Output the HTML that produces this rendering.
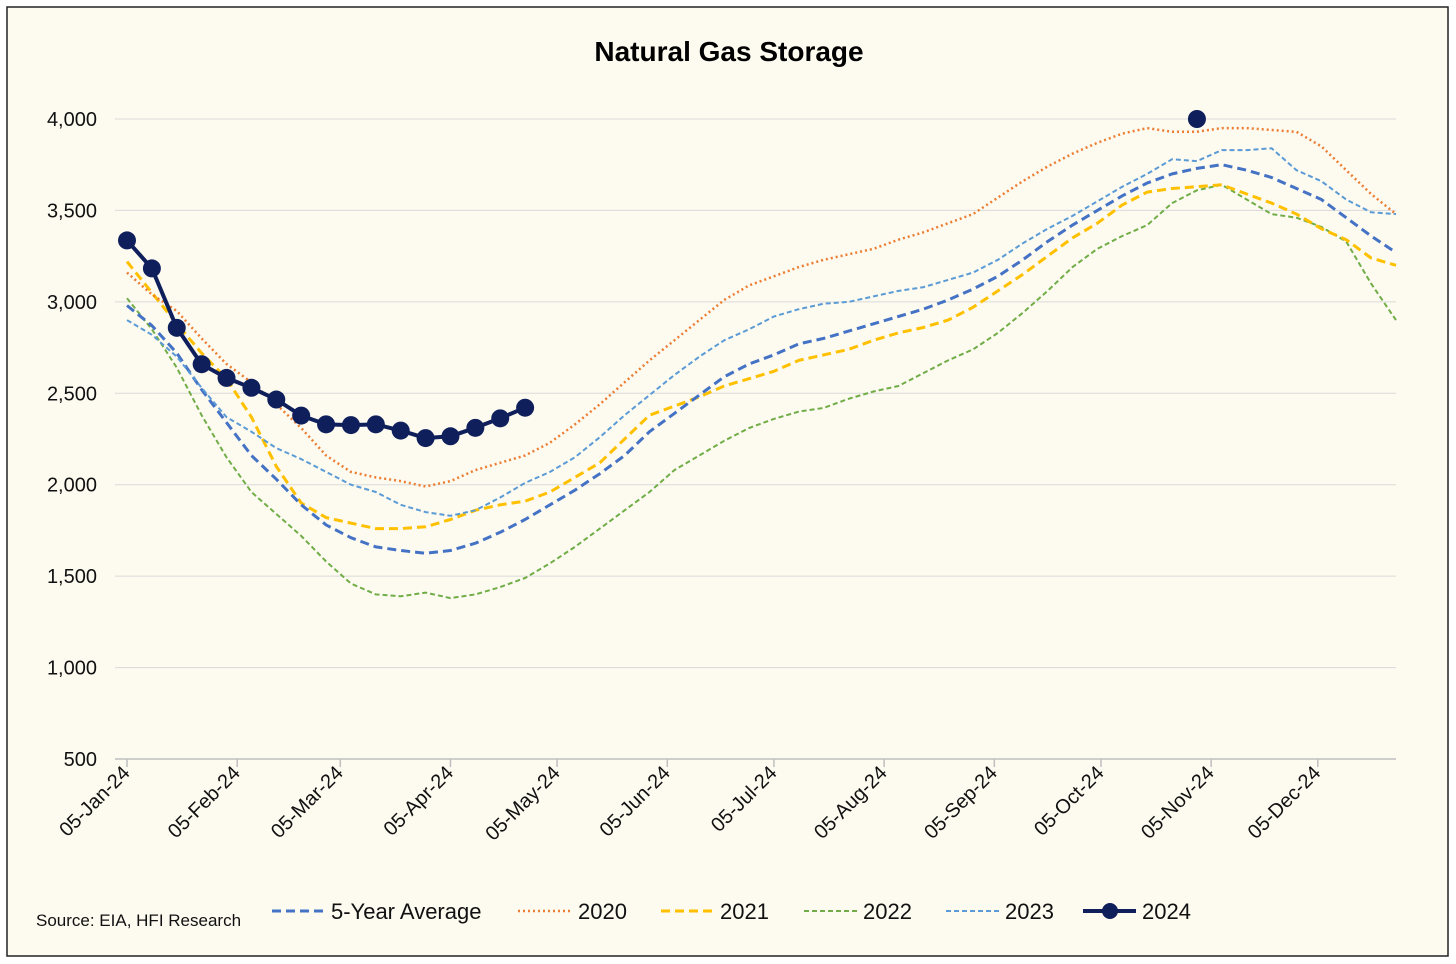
<!DOCTYPE html>
<html><head><meta charset="utf-8"><style>
html,body{margin:0;padding:0;background:#fff;}
svg{display:block;font-family:"Liberation Sans",Calibri,sans-serif;}
</style></head><body>
<svg id="chart" width="1456" height="964" viewBox="0 0 1456 964" xmlns="http://www.w3.org/2000/svg">
<rect x="7" y="7" width="1441" height="949" fill="#fdfaf0" stroke="#222" stroke-width="1.5"/>
<text x="729" y="61" text-anchor="middle" font-size="28" font-weight="bold" fill="#000">Natural Gas Storage</text>
<g id="grid"></g><g id="axes"></g><g id="series"></g>
<g font-size="22" fill="#111">
<text x="36" y="926" font-size="17">Source: EIA, HFI Research</text>
<g><line x1="272" y1="911" x2="325" y2="911" stroke="#4472c4" stroke-width="3" stroke-dasharray="9,5"/><text x="331" y="919">5-Year Average</text></g>
<g><line x1="518" y1="911" x2="572" y2="911" stroke="#ed7d31" stroke-width="2.5" stroke-dasharray="2,3"/><text x="578" y="919">2020</text></g>
<g><line x1="661" y1="911" x2="714" y2="911" stroke="#ffc000" stroke-width="3" stroke-dasharray="9,5"/><text x="720" y="919">2021</text></g>
<g><line x1="804" y1="911" x2="857" y2="911" stroke="#70ad47" stroke-width="2" stroke-dasharray="5,3"/><text x="863" y="919">2022</text></g>
<g><line x1="946" y1="911" x2="999" y2="911" stroke="#5b9bd5" stroke-width="2" stroke-dasharray="5,3"/><text x="1005" y="919">2023</text></g>
<g><line x1="1083" y1="911" x2="1136" y2="911" stroke="#0e1f5b" stroke-width="4"/><circle cx="1110" cy="911" r="8" fill="#0e1f5b"/><text x="1142" y="919">2024</text></g>
</g>
</svg>
<script>
const yTicks=[500,1000,1500,2000,2500,3000,3500,4000];
const xLabels=["05-Jan-24","05-Feb-24","05-Mar-24","05-Apr-24","05-May-24","05-Jun-24","05-Jul-24","05-Aug-24","05-Sep-24","05-Oct-24","05-Nov-24","05-Dec-24"];
const xLabelDays=[0,31,60,91,121,152,182,213,244,274,305,335];
const avg5=[2980,2870,2720,2520,2340,2160,2030,1890,1780,1710,1660,1640,1625,1640,1680,1740,1810,1890,1970,2060,2160,2290,2390,2490,2590,2660,2710,2770,2800,2840,2880,2920,2960,3010,3070,3140,3230,3330,3420,3500,3580,3650,3700,3730,3750,3720,3680,3620,3560,3460,3360,3270];
const y2020=[3160,3040,2950,2800,2660,2560,2440,2310,2160,2070,2040,2020,1990,2020,2080,2120,2160,2230,2330,2440,2560,2680,2790,2900,3010,3090,3140,3190,3230,3260,3290,3340,3380,3430,3480,3570,3660,3740,3810,3870,3920,3950,3930,3930,3950,3950,3940,3930,3850,3720,3590,3480];
const y2021=[3220,3050,2880,2720,2580,2370,2100,1900,1820,1790,1760,1760,1770,1810,1860,1890,1910,1960,2040,2120,2250,2380,2430,2480,2540,2580,2620,2680,2710,2740,2790,2830,2860,2900,2970,3060,3150,3250,3350,3430,3530,3600,3620,3630,3640,3590,3540,3480,3400,3340,3240,3200];
const y2022=[3020,2850,2640,2380,2150,1960,1840,1720,1580,1460,1400,1390,1410,1380,1400,1440,1490,1570,1660,1760,1860,1960,2080,2160,2240,2310,2360,2400,2420,2470,2510,2540,2610,2680,2740,2830,2940,3060,3190,3290,3360,3420,3540,3610,3640,3560,3480,3460,3410,3330,3100,2900];
const y2023=[2900,2820,2700,2530,2370,2290,2200,2140,2070,2000,1960,1890,1850,1830,1860,1930,2010,2070,2150,2260,2380,2490,2600,2700,2790,2850,2920,2960,2990,3000,3030,3060,3080,3120,3160,3230,3320,3400,3470,3550,3630,3700,3780,3770,3830,3830,3840,3720,3660,3560,3490,3480];
const y2024=[3336,3183,2858,2659,2584,2530,2466,2378,2330,2326,2330,2296,2255,2265,2311,2363,2421];
const y2024ExtraWeek=[43];
const y2024ExtraVal=[4000];

const NS="http://www.w3.org/2000/svg";
const X0=127, PXDAY=(1396-127)/357;
const xDay=d=>X0+d*PXDAY;
const xWeek=w=>xDay(w*7);
const yVal=v=>759-(v-500)*(640/3500);
function mk(tag,attrs,parent){const e=document.createElementNS(NS,tag);for(const k in attrs)e.setAttribute(k,attrs[k]);parent.appendChild(e);return e;}
const grid=document.getElementById('grid'),axes=document.getElementById('axes'),ser=document.getElementById('series');
yTicks.forEach(v=>{
  if(v>500){const l=mk('line',{x1:115,x2:1396,y1:yVal(v),y2:yVal(v),stroke:'#d9d9d9','stroke-width':1},grid);
  
  }
  const t=mk('text',{x:97,y:yVal(v)+7,'text-anchor':'end','font-size':20,fill:'#111'},axes);
  t.textContent=v.toLocaleString('en-US');
  
  
});
const ax=mk('line',{x1:115,x2:1396,y1:759,y2:759,stroke:'#bfbfbf','stroke-width':1.5},axes);


xLabels.forEach((lab,i)=>{
  const x=xDay(xLabelDays[i]);
  const tk=mk('line',{x1:x,x2:x,y1:759,y2:767,stroke:'#bfbfbf','stroke-width':1.5},axes);
  
  
  const t=mk('text',{x:x+4,y:774,'text-anchor':'end','font-size':20,fill:'#111',transform:`rotate(-45 ${x+4} 774)`},axes);
  t.textContent=lab;
  
  
});
function line(vals,color,w,dash,name){
  const d=vals.map((v,i)=>(i?'L':'M')+xWeek(i).toFixed(1)+' '+yVal(v).toFixed(1)).join(' ');
  const p=mk('path',{d:d,fill:'none',stroke:color,'stroke-width':w,'stroke-dasharray':dash,'stroke-linejoin':'round'},ser);
  
  
}
line(y2022,'#70ad47',2,'5,3','series-2022');
line(y2021,'#ffc000',3,'9,5','series-2021');
line(avg5,'#4472c4',3,'9,5','series-5yr-average');
line(y2023,'#5b9bd5',2,'5,3','series-2023');
line(y2020,'#ed7d31',2.5,'2,3','series-2020');
line(y2024,'#0e1f5b',4,'','series-2024');
y2024.forEach((v,i)=>{
  const c=mk('circle',{cx:xWeek(i),cy:yVal(v),r:9,fill:'#0e1f5b'},ser);
  
  
});
y2024ExtraVal.forEach((v,i)=>{
  const c=mk('circle',{cx:xWeek(y2024ExtraWeek[i]),cy:yVal(v),r:9,fill:'#0e1f5b'},ser);
  
  
});
</script>
</body></html>
